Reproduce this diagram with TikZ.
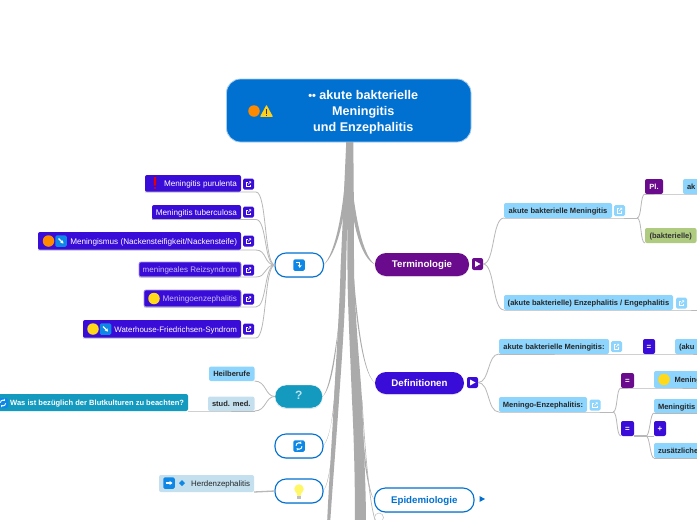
\documentclass[tikz,border=0pt]{standalone}
\usepackage{fontspec}
\setmainfont{Liberation Sans}
\usetikzlibrary{shadows,arrows.meta}
\definecolor{cRoot}{HTML}{0071D1}
\definecolor{cInd}{HTML}{3A0CD8}
\definecolor{cLB}{HTML}{8DD5FD}
\definecolor{cPale}{HTML}{C4E0EF}
\definecolor{cGreen}{HTML}{AECB7F}
\definecolor{cPur}{HTML}{6A0A8C}
\definecolor{cTeal}{HTML}{1499BF}
\definecolor{cGrey}{HTML}{ABABAB}
\definecolor{cLine}{HTML}{B8B8B8}
\definecolor{cIcon}{HTML}{0E88E6}
\definecolor{cOrange}{HTML}{FF8A00}
\definecolor{cYellow}{HTML}{FFD91A}
\tikzset{
  box/.style={rectangle,rounded corners=2pt,inner xsep=4pt,inner ysep=0pt,outer sep=0pt},
  indbox/.style={box,fill=cInd,text=white,font=\fontsize{8.15}{9}\selectfont},
  dimbox/.style={indbox,draw=cInd!45,line width=.7pt,text=white!72!cInd},
  lbbox/.style={box,fill=cLB,text=black!85,font=\bfseries\fontsize{7.55}{9}\selectfont},
  palebox/.style={box,fill=cPale,text=black!85,font=\bfseries\fontsize{7.55}{9}\selectfont},
  greenbox/.style={box,fill=cGreen,text=black!80,font=\bfseries\fontsize{7.55}{9}\selectfont},
  symbox/.style={box,text=white,font=\bfseries\fontsize{8}{9}\selectfont},
  main/.style={box,rounded corners=11pt,drop shadow={opacity=.18,shadow xshift=0pt,shadow yshift=-1pt},font=\bfseries\fontsize{9.7}{12}\selectfont},
  outl/.style={main,draw=cRoot,line width=1.1pt,fill=white,text=cRoot},
  conn/.style={draw=cLine,line width=.8pt},
  trunk/.style={fill=cGrey,draw=none},
  linkb/.style={rectangle,rounded corners=1.5pt,minimum size=11pt,inner sep=0pt,outer sep=0pt},
  arrowb/.style={rectangle,rounded corners=1.5pt,fill=cIcon,minimum size=11.5pt,inner sep=0pt,outer sep=0pt},
  dot/.style={circle,minimum size=11.5pt,inner sep=0pt,outer sep=0pt}
}
\newcommand{\bx}[8][]{%
  \pgfmathsetmacro\bw{#5-#3}\pgfmathsetmacro\bh{#6-#4}%
  \pgfmathsetmacro\bcx{(#3+#5)/2}\pgfmathsetmacro\bcy{(#4+#6)/2}\pgfmathsetmacro\bt{\bw-8}%
  \node[#1,minimum width=\bw pt,minimum height=\bh pt] (#2) at (\bcx,\bcy) {\makebox[\bt pt][#7]{\raisebox{-3pt}[0pt][0pt]{#8}}};}
\newcommand{\linkicon}[4]{% name x y fill
  \node[linkb,fill=#4] (#1) at (#2,#3) {};
  \begin{scope}[shift={(#1.center)}]
    \draw[white,line width=.55pt] (1.8,.6) -- (1.8,2.4) -- (-2.4,2.4) -- (-2.4,-1.8) -- (-.6,-1.8);
    \draw[white,line width=.55pt] (-.4,.4) -- (2.4,-2.4) (.6,-2.4) -- (2.4,-2.4) -- (2.4,-.6);
  \end{scope}}
\newcommand{\fan}[2]{% node hub : underline, then curve into the hub
  \draw[conn] (#1.south west) -- (#1.south east) -- ++(15,0) .. controls +(11,0) and +(-11,0) .. (#2.west);}
\begin{document}
\begin{tikzpicture}[x=1pt,y=-1pt]
\useasboundingbox (0,0) rectangle (697,520);
\clip (0,0) rectangle (697,520);
\fill[white] (0,0) rectangle (697,520);

% nodes that connectors need
\bx[box,rounded corners=14pt,fill=cRoot,draw=cRoot!35,line width=.8pt,text=white,font=\bfseries\fontsize{12.6}{16}\selectfont]{root}{226.5}{79}{471}{142}{c}{\hspace*{29pt}\raisebox{-2pt}{\parbox{170pt}{\centering{\fontsize{11}{8}\selectfont ••}\ akute bakterielle\\Meningitis\\und Enzephalitis}}}
\bx[outl]{hubA}{275}{253}{323.5}{277}{c}{}
\bx[main,fill=cTeal,draw=white,text=white!72!cTeal,font=\bfseries\fontsize{12}{14}\selectfont]{hubQ}{275}{385}{322.5}{408}{c}{?}
\bx[outl]{hubR}{275}{434}{323}{458}{c}{}
\bx[outl]{hubB}{275}{479}{323}{503}{c}{}
\bx[main,fill=cPur,text=white]{term}{375}{253}{469}{276}{c}{Terminologie}
\bx[main,fill=cInd,text=white]{defi}{375}{372}{464}{394}{c}{Definitionen}
\bx[outl]{epi}{374.5}{488}{474}{512}{c}{Epidemiologie}

% tapered trunks out of the root
\fill[trunk] (root.south) ++(-2.5,0) -- ++(7,0) .. controls (354,200) and (354,250) .. (354,270) .. controls (355,320) and (361,380) .. (362,400) .. controls (364,450) and (366,490) .. (366,525) -- (355,525) .. controls (355,480) and (354,440) .. (352,400) .. controls (350,350) and (347.5,300) .. (347.5,270) -- (347,190) -- cycle;
\fill[trunk] (root.south) ++(-2.5,0) -- ++(3,0) -- (346,270) .. controls (345,320) and (341,370) .. (339,400) .. controls (337,430) and (333,480) .. (330,525) -- (327,525) .. controls (329,480) and (332,440) .. (334,400) .. controls (336,360) and (339.5,310) .. (340.5,270) -- cycle;
% branches
\fill[trunk] (346,170) .. controls (343,210) and (336,252) .. (hubA.east) .. controls (338,253) and (345,215) .. (349,175) -- cycle;
\fill[trunk] (351,175) .. controls (355,215) and (362,255) .. (term.west) .. controls (360,258) and (352,220) .. (350,190) -- cycle;
\fill[trunk] (341,280) .. controls (339,340) and (333,388) .. (hubQ.east) .. controls (331,388) and (337,340) .. (344,280) -- cycle;
\fill[trunk] (336,370) .. controls (334,400) and (332,438) .. (hubR.east) .. controls (331,438) and (335,400) .. (339,370) -- cycle;
\fill[trunk] (334,410) .. controls (333,440) and (331,484) .. (hubB.east) .. controls (330,484) and (333,440) .. (337,410) -- cycle;
\fill[trunk] (351,240) .. controls (356,310) and (362,372) .. (defi.west) .. controls (360,372) and (354,300) .. (350,240) -- cycle;
\fill[trunk] (357,340) .. controls (360,400) and (365,488) .. (epi.west) .. controls (363,488) and (359,400) .. (355,340) -- cycle;
\draw[cLine,line width=.7pt] (362,400) .. controls (365,450) and (369,500) .. (375,520);

% left group A
\bx[indbox]{mp}{145}{175}{241}{192}{r}{Meningitis purulenta}
\bx[indbox]{mt}{152}{205}{241}{219.5}{r}{Meningitis tuberculosa}
\bx[indbox]{mg}{38}{232}{241}{250}{r}{Meningismus (Nackensteifigkeit/Nackensteife)}
\bx[dimbox,font=\fontsize{8}{9}\selectfont]{mr}{139}{262}{241}{277}{r}{meningeales Reizsyndrom}
\bx[dimbox]{me}{144}{290}{241}{307}{r}{Meningoenzephalitis}
\bx[indbox,font=\fontsize{7.9}{9}\selectfont]{wf}{83}{320}{241}{338}{r}{Waterhouse-Friedrichsen-Syndrom}
\fan{mp}{hubA}\fan{mt}{hubA}\fan{mg}{hubA}\fan{mr}{hubA}\fan{me}{hubA}\fan{wf}{hubA}
\linkicon{l1}{248.5}{184}{cInd}
\linkicon{l2}{248.5}{212}{cInd}
\linkicon{l3}{248.5}{241}{cInd}
\linkicon{l4}{248.5}{270}{cInd}
\linkicon{l5}{248.5}{299}{cInd}
\linkicon{l6}{248.5}{329}{cInd}

% icons in left group A
\coordinate (ex) at (155,183.5);
\fill[red!90!black,rounded corners=.5pt] (ex) ++(-1.1,-6.5) rectangle ++(2.2,8.5);
\fill[red!90!black] (ex) ++(0,4.5) circle[radius=1.2];
\node[dot,fill=cOrange] (d1) at (48.5,241) {};
\node[arrowb] (a1) at (61,241) {};
\draw[white,line width=1.1pt,-{Stealth[length=3pt,width=3.6pt]}] (a1.center) ++(-2.5,-2.5) -- ++(5,5);
\node[dot,fill=cYellow] (d2) at (154,298.5) {};
\node[dot,fill=cYellow] (d3) at (93,329) {};
\node[arrowb] (a2) at (105.5,329) {};
\draw[white,line width=1.1pt,-{Stealth[length=3pt,width=3.6pt]}] (a2.center) ++(-2.5,-2.5) -- ++(5,5);

% root icons
\node[dot,fill=cOrange] (rd) at (254,111) {};
\coordinate (rw) at (266.5,111);
\fill[cYellow!90!orange,rounded corners=.6pt] (rw) ++(-6.5,5.8) -- ++(6.5,-12) -- ++(6.5,12) -- cycle;
\fill[black!80] (rw) ++(-.7,-2.5) rectangle ++(1.4,5);
\fill[black!80] (rw) ++(-.7,3.5) rectangle ++(1.4,1.2);

% hub icons
\node[arrowb] (ha) at (299,265) {};
\draw[white,line width=1.2pt,-{Stealth[length=3pt,width=4pt]}] (ha.center) ++(-2.8,-2.5) -- ++(3.6,0) -- ++(0,5.4);
\node[arrowb] (hr) at (299,446) {};
\draw[white,line width=1pt,-{Stealth[length=2.2pt,width=3pt]}] (hr.center) ++(-3,-.3) arc[start angle=180,end angle=320,radius=3];
\draw[white,line width=1pt,-{Stealth[length=2.2pt,width=3pt]}] (hr.center) ++(3,.3) arc[start angle=0,end angle=140,radius=3];
\node[circle,fill=yellow!60!white,minimum size=9.5pt,inner sep=0pt] (hb) at (299,489) {};
\fill[yellow!60!white] (hb.south) ++(-2.5,-2) -- ++(5,0) -- ++(-1,4.5) -- ++(-3,0) -- cycle;
\fill[black!25] (hb.south) ++(-1.6,2.5) rectangle ++(3.2,2.2);

% Q group
\bx[lbbox]{hei}{209}{366.5}{254.5}{381}{c}{Heilberufe}
\bx[palebox]{stu}{208}{396.5}{254.5}{411}{c}{stud. med.}
\bx[box,fill=cTeal,text=white,font=\bfseries\fontsize{7.55}{9}\selectfont]{blut}{-12}{394}{188}{411}{r}{Was ist bezüglich der Blutkulturen zu beachten?}
\draw[conn] (hei.south east) .. controls +(12,0) and +(-10,0) .. (hubQ.west);
\draw[conn] (stu.south east) .. controls +(12,0) and +(-10,0) .. (hubQ.west);
\draw[conn] (blut.south east) -- (stu.south west) -- (stu.south east);
\node[arrowb,minimum size=10pt] (ab) at (3,403) {};
\draw[white,line width=.9pt,-{Stealth[length=2pt,width=2.8pt]}] (ab.center) ++(-2.6,-.3) arc[start angle=180,end angle=320,radius=2.6];
\draw[white,line width=.9pt,-{Stealth[length=2pt,width=2.8pt]}] (ab.center) ++(2.6,.3) arc[start angle=0,end angle=140,radius=2.6];

% bulb group
\bx[palebox,font=\fontsize{7.9}{9}\selectfont]{her}{159}{475}{254}{492}{r}{Herdenzephalitis}
\draw[conn,line width=1.3pt] (her.south east) -- (hubB.west);
\node[arrowb] (ah) at (169,483) {};
\draw[white,line width=1.2pt,-{Stealth[length=3pt,width=4pt]}] (ah.center) ++(-3.5,0) -- ++(7,0);
\coordinate (dh) at (182,483);
\fill[cIcon] (dh) ++(-3,0) -- ++(3,-3) -- ++(3,3) -- ++(-3,3) -- cycle;

% Terminologie
\bx[symbox,fill=cPur]{tt}{472}{258}{483}{270}{c}{}
\fill[white] (tt.center) ++(-2.5,-3) -- ++(5.5,3) -- ++(-5.5,3) -- cycle;
\bx[lbbox]{akm}{504}{203}{612}{218}{c}{akute bakterielle Meningitis}
\linkicon{l7}{619.5}{210.5}{cLB}
\bx[lbbox]{enz}{504}{295}{673}{310}{c}{(akute bakterielle) Enzephalitis / Engephalitis}
\linkicon{l8}{681.5}{303}{cLB}
\draw[conn] (tt.east) .. controls +(12,0) and +(-12,0) .. (akm.south west);
\draw[conn] (tt.east) .. controls +(12,0) and +(-12,0) .. (enz.south west);
\draw[conn] (enz.south west) -- (enz.south east) -- (710,310);
\bx[symbox,fill=cPur,font=\bfseries\fontsize{7.5}{9}\selectfont]{pl}{645}{179}{663}{194}{c}{Pl.}
\bx[lbbox]{ak}{683}{179}{712}{194}{l}{ak}
\bx[greenbox]{bak}{645}{228}{696.5}{243}{c}{(bakterielle)}
\draw[conn] (akm.south west) -- (akm.south east) -- ++(25,0) coordinate (akj);
\draw[conn] (akj) .. controls +(5,0) and +(-5,0) .. (pl.south west);
\draw[conn] (akj) .. controls +(5,0) and +(-5,0) .. (bak.south west);
\draw[conn] (pl.south west) -- (pl.south east) -- (ak.south west) -- (ak.south east);

% Definitionen
\bx[symbox,fill=cInd]{dt}{467}{377}{478}{388}{c}{}
\fill[white] (dt.center) ++(-2.5,-3) -- ++(5.5,3) -- ++(-5.5,3) -- cycle;
\bx[lbbox]{dam}{499}{339}{609}{354}{c}{akute bakterielle Meningitis:}
\linkicon{l9}{616.5}{346.5}{cLB}
\bx[lbbox]{dme}{499}{397}{587}{412}{c}{Meningo-Enzephalitis:}
\linkicon{l10}{595}{405}{cLB}
\draw[conn] (dt.east) .. controls +(12,0) and +(-12,0) .. (dam.south west);
\draw[conn] (dt.east) .. controls +(12,0) and +(-12,0) .. (dme.south west);
\bx[symbox,fill=cInd]{eq1}{643}{339}{655}{354}{c}{=}
\bx[lbbox]{aku}{675}{339}{712}{354}{l}{(aku}
\draw[conn] (dam.south west) -- (dam.south east) -- (eq1.south west) -- (eq1.south east) -- (aku.south west) -- (aku.south east);
\bx[symbox,fill=cPur]{eq2}{621}{373}{634}{388}{c}{=}
\bx[lbbox]{men}{654}{371}{712}{388}{l}{\hspace*{16.5pt}Mening}
\node[dot,fill=cYellow] (d4) at (664,379.5) {};
\draw[conn] (eq2.south west) -- (eq2.south east) -- (men.south west) -- (men.south east);
\bx[symbox,fill=cInd]{eq3}{621}{421}{634}{436}{c}{=}
\draw[conn] (dme.south west) -- (dme.south east) -- ++(26,0) coordinate (dmj);
\draw[conn] (dmj) .. controls +(5,0) and +(-5,0) .. (eq2.south west);
\draw[conn] (dmj) .. controls +(5,0) and +(-5,0) .. (eq3.south west);
\bx[lbbox]{men2}{654}{399}{712}{413}{l}{Meningitis}
\bx[symbox,fill=cInd]{plus}{654}{421}{666}{436}{c}{+}
\bx[lbbox]{zus}{654}{443}{712}{458}{l}{zusätzliche}
\draw[conn,line width=1.2pt] (eq3.south east) -- ++(12,0) coordinate (eqj);
\draw[conn] (eqj) .. controls +(4,0) and +(-4,0) .. (men2.south west);
\draw[conn] (eqj) -- (plus.south west);
\draw[conn] (eqj) .. controls +(4,0) and +(-4,0) .. (zus.south west);
\draw[conn] (men2.south west) -- (men2.south east);
\draw[conn] (zus.south west) -- (zus.south east);

% Epidemiologie marker and collapse ring
\fill[cRoot] (479.5,496) coordinate (em) -- ++(5.5,3) -- ++(-5.5,3) -- cycle;
\node[circle,draw=black!25,fill=white,minimum size=9pt,inner sep=0pt,line width=.5pt] (ring) at (379,517.5) {};
\end{tikzpicture}
\end{document}
